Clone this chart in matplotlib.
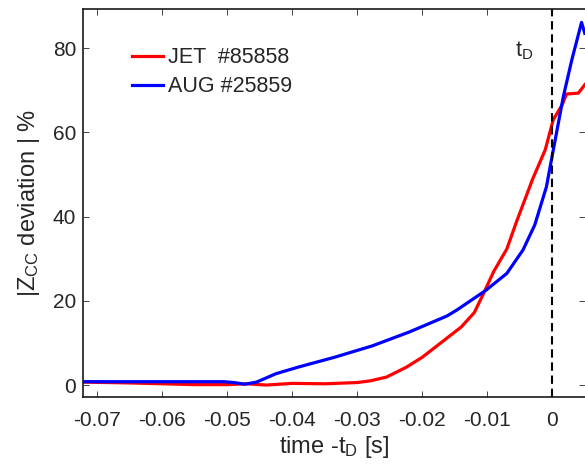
import numpy as np
import matplotlib
matplotlib.use("Agg")
import matplotlib.pyplot as plt

plt.rcParams['font.family'] = ['Liberation Sans', 'DejaVu Sans']
plt.rcParams['mathtext.fontset'] = 'custom'
plt.rcParams['mathtext.rm'] = 'Liberation Sans'
plt.rcParams['mathtext.it'] = 'Liberation Sans'

# JET #85858 (red)
jet_t = [-0.0721, -0.065, -0.06, -0.055, -0.05, -0.047, -0.044, -0.04, -0.035,
         -0.03, -0.028, -0.0255, -0.0225, -0.02, -0.017, -0.014, -0.012, -0.0105,
         -0.009, -0.007, -0.0055, -0.003, -0.0011, 0.00015, 0.0015, 0.0022, 0.004, 0.005]
jet_z = [0.7, 0.5, 0.3, 0.1, 0.1, 0.3, 0.0, 0.4, 0.3,
         0.6, 1.0, 1.9, 4.2, 6.6, 10.2, 13.8, 17.2, 22.0,
         27.0, 32.3, 38.8, 49.0, 55.8, 63.0, 66.5, 69.1, 69.3, 71.3]

# AUG #25859 (blue)
aug_t = [-0.0721, -0.06, -0.0505, -0.049, -0.0473, -0.0455, -0.0425, -0.039, -0.0335,
         -0.0277, -0.022, -0.0162, -0.0147, -0.0103, -0.007, -0.0045, -0.0027, -0.0009,
         0.00015, 0.0017, 0.003, 0.0045, 0.005]
aug_z = [0.8, 0.8, 0.8, 0.6, 0.2, 0.7, 2.7, 4.3, 6.6,
         9.3, 12.6, 16.4, 17.8, 22.4, 26.5, 32.1, 38.0, 47.1,
         55.8, 68.5, 77.2, 86.1, 83.5]

xticks = [-0.07, -0.06, -0.05, -0.04, -0.03, -0.02, -0.01, 0]
xticklabels = ['-0.07', '-0.06', '-0.05', '-0.04', '-0.03', '-0.02', '-0.01', '0']
yticks = [0, 20, 40, 60, 80]

txt = '#262626'

fig = plt.figure(figsize=(5.85, 4.67), dpi=100)
ax = fig.add_axes([0.1424, 0.1493, 0.8576, 0.8307])

ax.plot(jet_t, jet_z, color='#ff0000', lw=2.3, label='JET  #85858')
ax.plot(aug_t, aug_z, color='#0000ff', lw=2.3, label='AUG #25859')
ax.axvline(0, color='black', lw=1.5, linestyle=(0, (4, 2.3)))

ax.set_xlim(-0.07215, 0.00503)
ax.set_ylim(-2.9, 89.2)
ax.set_xticks(xticks)
ax.set_xticklabels(xticklabels)
ax.set_yticks(yticks)
ax.tick_params(direction='in', length=4, width=0.6, labelsize=15,
               colors=txt, top=True, right=True)
ax.tick_params(axis='x', pad=10)
ax.tick_params(axis='y', pad=5)
ax.spines['right'].set_visible(False)
for s in ['left', 'bottom', 'top']:
    ax.spines[s].set_linewidth(1.2)
    ax.spines[s].set_color('#1a1a1a')

ax.set_xlabel(r'time -t$_{\rm D}$ [s]', fontsize=17, color=txt, labelpad=3)
ax.set_ylabel(r'|Z$_{\rm CC}$ deviation | %', fontsize=17, color=txt, labelpad=8)

ax.text(-0.0029, 79.3, r't$_{\rm D}$', fontsize=15.5, color=txt,
        ha='right', va='center', transform=ax.transData)

leg = ax.legend(loc='upper left', bbox_to_anchor=(0.08, 0.925), frameon=False,
                fontsize=15.5, handlelength=1.45, handletextpad=0.2,
                labelspacing=0.38, borderaxespad=0)
for t in leg.get_texts():
    t.set_color(txt)

fig.savefig('out.png', dpi=100)
